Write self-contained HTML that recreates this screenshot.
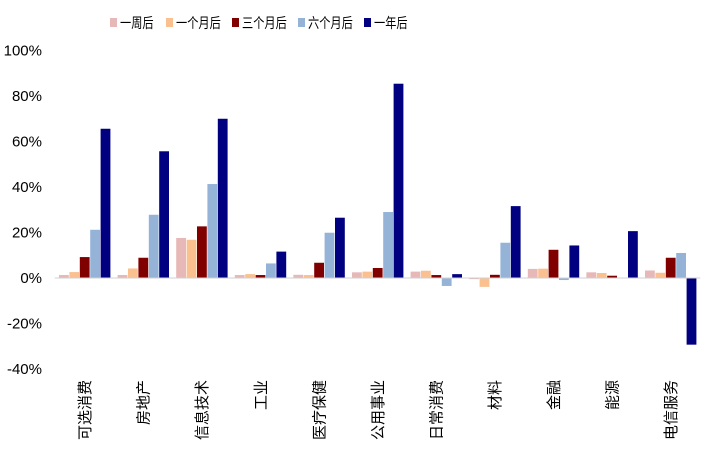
<!DOCTYPE html>
<html><head><meta charset="utf-8"><style>
html,body{margin:0;padding:0;background:#fff;}
svg text{font-family:"Liberation Sans","Noto Sans CJK SC",sans-serif;fill:#000;}
</style></head><body>
<svg id="chart" width="717" height="457" viewBox="0 0 717 457" xmlns="http://www.w3.org/2000/svg"></svg>
<script>
const categories=["可选消费","房地产","信息技术","工业","医疗保健","公用事业","日常消费","材料","金融","能源","电信服务"];
const seriesNames=["一周后","一个月后","三个月后","六个月后","一年后"];
const weekAfter=[1.3,1.3,17.6,1.3,1.4,2.5,2.8,-0.5,4.0,2.5,3.3];
const monthAfter=[2.6,4.2,16.8,1.7,1.3,2.8,3.2,-3.9,4.1,2.2,2.3];
const threeMonthAfter=[9.2,8.9,22.7,1.3,6.7,4.4,1.3,1.4,12.4,1.0,8.9];
const sixMonthAfter=[21.2,27.8,41.3,6.4,19.9,29.0,-3.5,15.5,-0.9,0,11.0];
const yearAfter=[65.6,55.7,70.0,11.6,26.5,85.4,1.7,31.6,14.3,20.6,-29.3];
const yTicks=[100,80,60,40,20,0,-20,-40];
const colors=["#e6b8b7","#fac090","#800000","#95b3d7","#000080"];
const series=[weekAfter,monthAfter,threeMonthAfter,sixMonthAfter,yearAfter];
const NS="http://www.w3.org/2000/svg";
const svg=document.getElementById("chart");
const y0=278, pxPer=45.5/20;
function y(v){return y0-v*pxPer;}
const catW=58.6, x0=55.7, barW=10.4;
function xCat(i){return x0+i*catW;}
function mk(tag,attrs){const e=document.createElementNS(NS,tag);for(const k in attrs)e.setAttribute(k,attrs[k]);svg.appendChild(e);return e;}
yTicks.forEach(t=>{
  const e=mk("text",{x:42,y:y(t)+5,"text-anchor":"end","font-size":"15"});
  
  
  e.textContent=t+"%";
});
series.forEach((s,si)=>{
  s.forEach((v,i)=>{
    const x=xCat(i)+3.3+si*barW;
    const top=Math.min(y(v),y(0)),h=Math.abs(y(v)-y(0));
    const r=mk("rect",{x:x,y:top,width:barW-0.6,height:Math.max(h,0.01),fill:colors[si]});
    
    
  });
});
const ax=mk("line",{x1:x0-1,x2:x0+11*catW,y1:y0,y2:y0,stroke:"#d0d0d0","stroke-width":1});


categories.forEach((c,i)=>{
  const cx=xCat(i)+3.3+2.5*barW;
  const t=mk("text",{x:0,y:0,"text-anchor":"end","font-size":"15",transform:"translate("+(cx+5)+",380) rotate(-90)"});
  
  
  t.textContent=c;
});
const lx=[110,166,232,298,364];
seriesNames.forEach((n,i)=>{
  const g=mk("g",{});
  
  
  const r=document.createElementNS(NS,"rect");
  r.setAttribute("x",lx[i]);r.setAttribute("y",18);r.setAttribute("width",7);r.setAttribute("height",9);r.setAttribute("fill",colors[i]);
  g.appendChild(r);
  const t=document.createElementNS(NS,"text");
  t.setAttribute("x",lx[i]+10);t.setAttribute("y",28);t.setAttribute("font-size","14");
  t.setAttribute("textLength",n.length*11.2);t.setAttribute("lengthAdjust","spacingAndGlyphs");
  t.textContent=n;g.appendChild(t);
});
</script>
</body></html>
